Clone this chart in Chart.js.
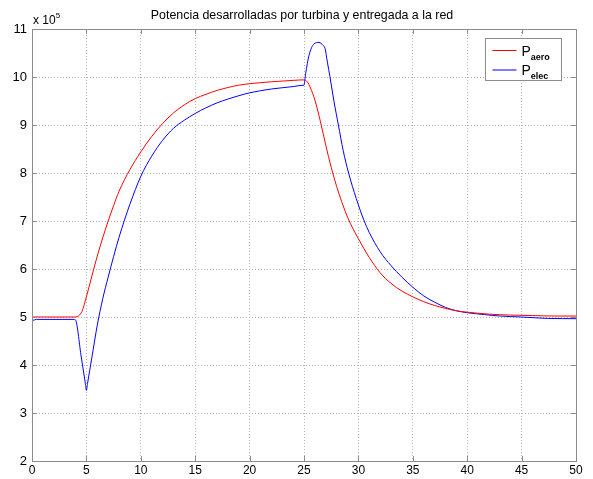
<!DOCTYPE html>
<html>
<head>
<meta charset="utf-8">
<title>Potencia turbina / red</title>
<script src="https://cdn.jsdelivr.net/npm/chart.js@4/dist/chart.umd.min.js"></script>
<style>
  html, body { margin: 0; padding: 0; background: #fff; }
  #wrap { width: 593px; height: 479px; }
</style>
</head>
<body>
<div id="wrap"><canvas id="potChart" width="593" height="479"></canvas></div>
<script>
// Potencia en unidades de 1e5 W, tiempo en s
const tAero = [0, 4.0, 4.3, 4.6, 5.0, 5.5, 6.0, 6.5, 7.0, 7.5, 8.0, 9.0, 10, 11, 12, 13, 14, 15, 16, 17, 18, 19, 20, 22, 24, 25,
  25.3, 25.6, 26.0, 26.5, 27.0, 27.5, 28.0, 28.5, 29.0, 29.5, 30, 31, 32, 33, 34, 35, 36, 37, 38, 39, 40, 42, 44, 46, 48, 50];
const pAero = [5.0, 5.0, 5.03, 5.12, 5.42, 5.85, 6.27, 6.65, 7.0, 7.32, 7.62, 8.07, 8.44, 8.76, 9.03, 9.25, 9.42, 9.55, 9.64, 9.72, 9.78, 9.83, 9.86, 9.9, 9.93, 9.94,
  9.9, 9.77, 9.52, 9.08, 8.58, 8.12, 7.72, 7.38, 7.08, 6.84, 6.63, 6.24, 5.92, 5.7, 5.54, 5.42, 5.32, 5.24, 5.18, 5.13, 5.1, 5.06, 5.04, 5.03, 5.02, 5.02];

const tElec = [0, 0.02, 0.06, 0.4, 3.9, 4.0, 4.5, 4.9, 5.0, 5.1, 5.5, 6.0, 6.5, 7.0, 7.5, 8.0, 8.5, 9.0, 10, 11, 12, 13, 14, 15, 16, 17, 18, 19, 20, 22, 24, 24.9, 25,
  25.15, 25.46, 25.92, 26.38, 26.75, 26.93, 27.15, 27.39, 27.75, 28.16, 28.6, 29.1, 29.8, 30.5, 31, 32, 33, 34, 35, 36, 37, 38, 39, 40, 41.6, 43, 45, 47.5, 50];
const pElec = [4.77, 5.0, 4.93, 4.95, 4.95, 4.94, 4.21, 3.62, 3.47, 3.61, 4.15, 4.83, 5.38, 5.83, 6.26, 6.66, 7.02, 7.35, 7.93, 8.35, 8.68, 8.93, 9.1, 9.24, 9.36, 9.46, 9.54, 9.61, 9.67, 9.75, 9.8, 9.828, 9.83,
  10.07, 10.45, 10.69, 10.72, 10.66, 10.6, 10.31, 10.0, 9.5, 9.0, 8.47, 8.0, 7.47, 7.02, 6.76, 6.36, 6.07, 5.83, 5.62, 5.44, 5.31, 5.2, 5.13, 5.09, 5.05, 5.02, 5.0, 4.97, 4.965];

const xTicks = [0, 5, 10, 15, 20, 25, 30, 35, 40, 45, 50];
const yTicks = [2, 3, 4, 5, 6, 7, 8, 9, 10, 11];

const titulo = 'Potencia desarrolladas por turbina y entregada a la red';
const nombres = [['P', 'aero'], ['P', 'elec']];
const colores = ['#ff0000', '#0000ff'];

const FUENTE = '"Liberation Sans", Arial, Helvetica, sans-serif';
const GRIS = '#8c8c8c';

const toXY = (ts, ps) => ts.map((t, i) => ({x: t, y: ps[i]}));

// marco, marcas hacia dentro, titulo, exponente y leyenda al estilo matlab
const estiloMatlab = {
  id: 'estiloMatlab',
  afterDraw(chart) {
    const {ctx, chartArea: a, scales} = chart;
    ctx.save();

    ctx.strokeStyle = GRIS;
    ctx.lineWidth = 1;
    ctx.strokeRect(a.left + 0.5, a.top + 0.5, a.right - a.left, a.bottom - a.top);

    ctx.beginPath();
    xTicks.forEach(v => {
      const px = Math.round(scales.x.getPixelForValue(v)) + 0.5;
      ctx.moveTo(px, a.bottom); ctx.lineTo(px, a.bottom - 5);
      ctx.moveTo(px, a.top); ctx.lineTo(px, a.top + 5);
    });
    yTicks.forEach(v => {
      const py = Math.round(scales.y.getPixelForValue(v)) + 0.5;
      ctx.moveTo(a.left, py); ctx.lineTo(a.left + 5, py);
      ctx.moveTo(a.right, py); ctx.lineTo(a.right - 5, py);
    });
    ctx.stroke();

    ctx.fillStyle = '#000';
    ctx.textAlign = 'center';
    ctx.textBaseline = 'alphabetic';
    ctx.font = '12.4px ' + FUENTE;
    ctx.fillText(titulo, (a.left + a.right) / 2 - 2, 19);

    ctx.textAlign = 'left';
    ctx.font = '12px ' + FUENTE;
    ctx.fillText('x 10', a.left + 1, 24);
    const w = ctx.measureText('x 10').width;
    ctx.font = '8px ' + FUENTE;
    ctx.fillText('5', a.left + 1 + w, 18);

    // leyenda
    const bx = a.right - 90.5, by = a.top + 9.5, bw = 76, bh = 42;
    ctx.fillStyle = '#fff';
    ctx.fillRect(bx, by, bw, bh);
    ctx.strokeStyle = GRIS;
    ctx.strokeRect(bx, by, bw, bh);
    nombres.forEach((n, i) => {
      const y = by + 12 + i * 19.5;
      ctx.strokeStyle = colores[i];
      ctx.beginPath();
      ctx.moveTo(bx + 7, y); ctx.lineTo(bx + 31, y);
      ctx.stroke();
      ctx.fillStyle = '#000';
      ctx.font = '14px ' + FUENTE;
      ctx.fillText(n[0], bx + 36, y + 5);
      const wp = ctx.measureText(n[0]).width;
      ctx.font = 'bold 9px ' + FUENTE;
      ctx.fillText(n[1], bx + 36 + wp, y + 9);
    });

    ctx.restore();
  }
};

const ctx = document.getElementById('potChart').getContext('2d');
new Chart(ctx, {
  type: 'line',
  data: {
    datasets: [
      {label: 'Paero', data: toXY(tAero, pAero), borderColor: colores[0], borderWidth: 1, pointRadius: 0, fill: false, cubicInterpolationMode: 'monotone'},
      {label: 'Pelec', data: toXY(tElec, pElec), borderColor: colores[1], borderWidth: 1, pointRadius: 0, fill: false, cubicInterpolationMode: 'monotone'}
    ]
  },
  options: {
    responsive: false,
    animation: false,
    layout: {padding: {top: 29, right: 17, left: 0, bottom: 0}},
    plugins: {
      legend: {display: false},
      title: {display: false},
      tooltip: {enabled: false}
    },
    scales: {
      x: {
        type: 'linear',
        min: 0, max: 50,
        afterFit: s => { s.height = 18; },
        afterBuildTicks: s => { s.ticks = xTicks.map(v => ({value: v})); },
        ticks: {color: '#000', padding: 2, maxRotation: 0, font: {family: FUENTE, size: 12}},
        grid: {color: '#b4b4b4', drawTicks: false, lineWidth: 1},
        border: {color: GRIS, dash: [1, 2]}
      },
      y: {
        type: 'linear',
        min: 2, max: 11,
        afterFit: s => { s.width = 32; },
        afterBuildTicks: s => { s.ticks = yTicks.map(v => ({value: v})); },
        ticks: {color: '#000', padding: 5, font: {family: FUENTE, size: 13}},
        grid: {color: '#b4b4b4', drawTicks: false, lineWidth: 1},
        border: {color: GRIS, dash: [1, 2]}
      }
    }
  },
  plugins: [estiloMatlab]
});
</script>
</body>
</html>
